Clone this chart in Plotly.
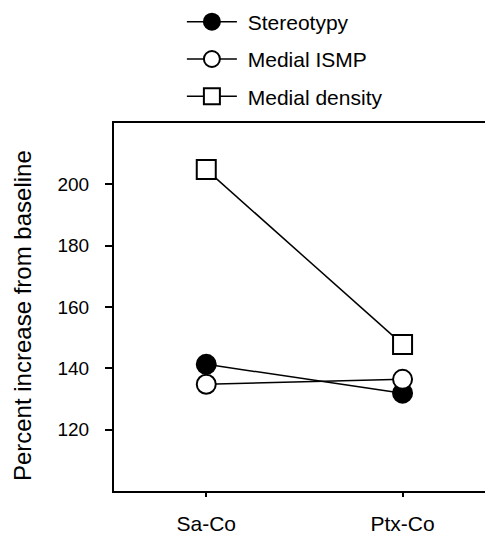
import plotly.graph_objects as go

categories = ["Sa-Co", "Ptx-Co"]
stereotypy = [141.3, 131.9]
medial_ismp = [134.8, 136.4]
medial_density = [204.8, 147.8]
y_ticks = [120, 140, 160, 180, 200]
y_title = "Percent increase from baseline"

x_pos = [0, 1]

fig = go.Figure()
series = [
    ("Stereotypy", stereotypy, dict(symbol="circle", color="black", size=19, line=dict(color="black", width=2))),
    ("Medial ISMP", medial_ismp, dict(symbol="circle", color="white", size=19, line=dict(color="black", width=2))),
    ("Medial density", medial_density, dict(symbol="square", color="white", size=19, line=dict(color="black", width=2))),
]
order = [2, 0, 1]
for i in order:
    name, vals, mk = series[i]
    fig.add_trace(go.Scatter(
        x=x_pos, y=vals, name="\u00a0" + name, mode="lines+markers",
        line=dict(color="black", width=1.5), marker=mk,
        legendgroup=name, legendrank=i + 1,
    ))

fig.add_annotation(text=y_title, xref="paper", yref="paper", x=-0.248, y=0.478,
                   textangle=-90, showarrow=False, font=dict(size=24),
                   xanchor="center", yanchor="middle")

fig.update_layout(
    width=485, height=535,
    margin=dict(l=114, r=0, t=123, b=44, autoexpand=False),
    paper_bgcolor="white", plot_bgcolor="white",
    font=dict(family="Liberation Sans, Arial, sans-serif", color="black", size=20),
    showlegend=True,
    legend=dict(x=0.183, y=1.33, xanchor="left", yanchor="top",
                font=dict(size=21), tracegroupgap=7, traceorder="grouped",
                itemwidth=50, bgcolor="rgba(0,0,0,0)"),
    xaxis=dict(range=[-0.47, 1.42], tickvals=x_pos, ticktext=categories,
               showgrid=False, zeroline=False, showline=True, linecolor="black",
               linewidth=2, mirror=True, ticks="outside", ticklen=4, tickwidth=1.5,
               tickcolor="black", tickfont=dict(size=21), ticklabelstandoff=9),
    yaxis=dict(range=[100, 220], tickvals=y_ticks, showgrid=False, zeroline=False,
               showline=True, linecolor="black", linewidth=2, ticks="outside",
               ticklen=7, tickwidth=1.5, tickcolor="black", tickfont=dict(size=19),
               ticklabelstandoff=12),
)

fig.write_html("out.html", config={"displayModeBar": False},
               post_script="document.body.style.margin='0';document.body.style.overflow='hidden';")
